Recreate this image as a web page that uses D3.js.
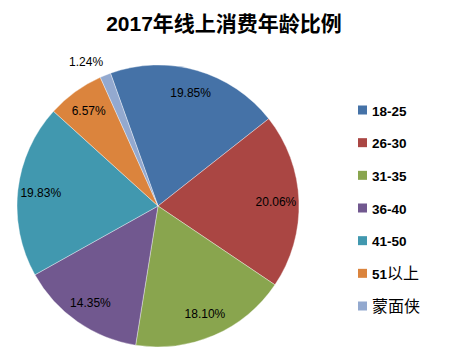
<!DOCTYPE html>
<html><head><meta charset="utf-8">
<script src="https://cdn.jsdelivr.net/npm/d3@7"></script>
<style>body{margin:0;background:#fff}svg{display:block}</style>
</head><body>
<svg id="c" width="451" height="361"></svg>
<script>
const categories = ["18-25","26-30","31-35","36-40","41-50","51以上","蒙面侠"];
const values = [19.85,20.06,18.10,14.35,19.83,6.57,1.24];
const colors = ["#4572A7","#AA4643","#89A54E","#71588F","#4198AF","#DB843D","#93A9CF"];
const title = "2017年线上消费年龄比例";

const svg = d3.select("#c");
const cx = 158, cy = 206, R = 141;
const startA = -19.7 * Math.PI / 180;

svg.append("text").attr("x", 224).attr("y", 31).attr("text-anchor","middle")
  .attr("font-family","'Liberation Sans','Noto Sans CJK SC',sans-serif")
  .attr("font-weight","bold").attr("font-size","21px").attr("fill","#000").text(title);

const pie = d3.pie().sort(null).value(d=>d).startAngle(startA).endAngle(startA + 2*Math.PI);
const arcs = pie(values);
const arc = d3.arc().innerRadius(0).outerRadius(R);
const g = svg.append("g").attr("transform",`translate(${cx},${cy})`);
g.selectAll("path").data(arcs).join("path")
  .attr("d", arc).attr("fill",(d,i)=>colors[i])
  .attr("stroke","rgba(255,255,255,0.45)").attr("stroke-width",0.8);

const inArc = d3.arc().innerRadius(118).outerRadius(118);
g.selectAll("text.lbl").data(arcs).join("text").attr("class","lbl")
  .each(function(d){
    const t = d3.select(this);
    const frac = (d.endAngle - d.startAngle)/(2*Math.PI);
    const m = (d.startAngle + d.endAngle)/2;
    if (frac < 0.02) {
      const r = R + 14;
      t.attr("x", Math.sin(m)*r + 3).attr("y", -Math.cos(m)*r).attr("text-anchor","end");
    } else {
      const [x,y] = inArc.centroid(d);
      t.attr("x", x).attr("y", y).attr("text-anchor","middle");
    }
  })
  .attr("dy","0.35em")
  .attr("font-family","'Liberation Sans',Arial,sans-serif").attr("font-size","12px").attr("fill","#000")
  .text(d=>d.data.toFixed(2)+"%");

const leg = svg.append("g");
const ly = d3.scaleLinear().domain([0, categories.length-1]).range([110, 306]);
categories.forEach((c,i)=>{
  const y = ly(i);
  leg.append("rect").attr("x",358).attr("y",y-4.5).attr("width",9).attr("height",9).attr("fill",colors[i]);
  const t = leg.append("text").attr("x",372).attr("y",y).attr("dy","0.36em")
    .attr("font-family","'Liberation Sans','Noto Sans CJK SC',sans-serif").attr("fill","#000");
  const parts = c.match(/[\x00-\x7F]+|[^\x00-\x7F]+/g);
  parts.forEach(p=>{
    const ascii = /^[\x00-\x7F]+$/.test(p);
    t.append("tspan").text(p)
      .attr("font-size", ascii ? "13.5px" : "16px")
      .attr("font-weight", ascii ? "bold" : "normal");
  });
});
</script>
</body></html>
